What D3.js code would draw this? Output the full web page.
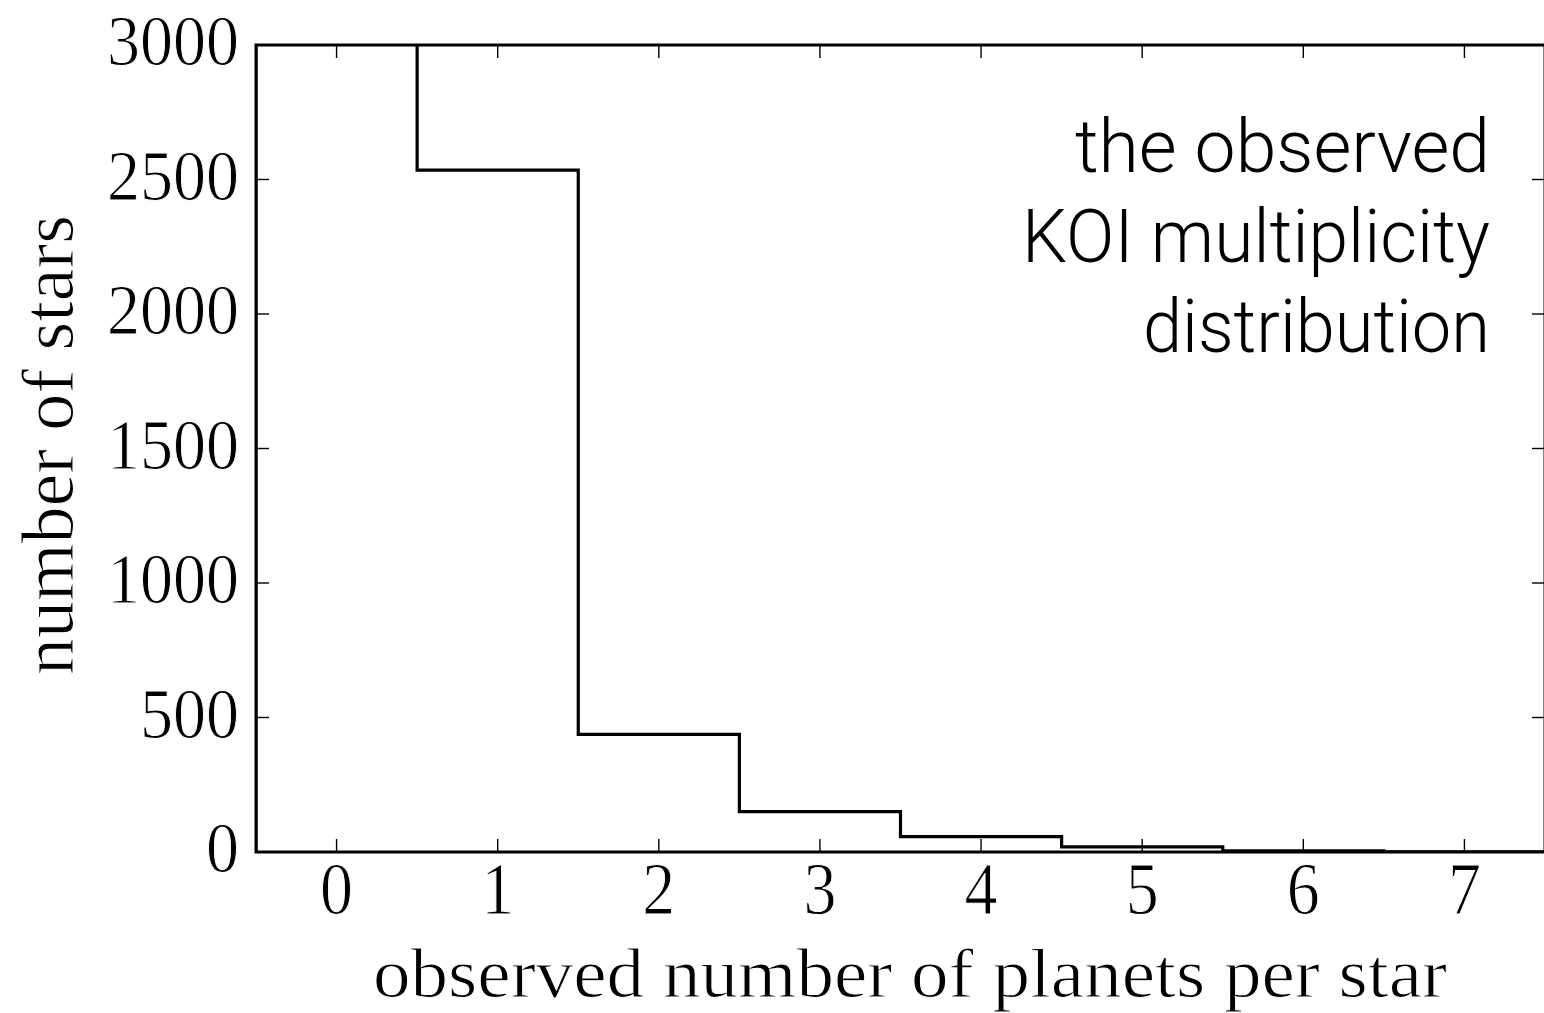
<!DOCTYPE html>
<html><head><meta charset="utf-8">
<script src="https://cdn.jsdelivr.net/npm/d3@7"></script>
<style>
html,body{margin:0;padding:0;background:#fff;}
svg{display:block;}
</style></head>
<body>
<svg id="chart" width="1544" height="1013"></svg>
<script>
// data
const bins = [0, 1, 2, 3, 4, 5, 6, 7];
const counts = [3500, 2535, 437, 150, 57, 19, 4, 1]; // bin 0 exceeds the axis top (clipped)
const xTicks = [0, 1, 2, 3, 4, 5, 6, 7];
const yTicks = [0, 500, 1000, 1500, 2000, 2500, 3000];
const annotation = ["the observed", "KOI multiplicity", "distribution"];
const xLabel = "observed number of planets per star";
const yLabel = "number of stars";

const svg = d3.select("#chart");
const L = 256, R = 1545, T = 45, B = 852;
const x = d3.scaleLinear().domain([-0.5, 7.5]).range([L, R]);
const y = d3.scaleLinear().domain([0, 3000]).range([B, T]);

svg.append("defs").append("clipPath").attr("id", "clip")
  .append("rect").attr("x", L).attr("y", T).attr("width", R - L).attr("height", B - T);

// ticks (inward)
const tickLen = 13;
const tg = svg.append("g").attr("stroke", "#000").attr("stroke-width", 1.4);
xTicks.forEach(t => {
  tg.append("line").attr("x1", x(t)).attr("x2", x(t)).attr("y1", B).attr("y2", B - tickLen);
  tg.append("line").attr("x1", x(t)).attr("x2", x(t)).attr("y1", T).attr("y2", T + tickLen);
});
yTicks.forEach(t => {
  tg.append("line").attr("x1", L).attr("x2", L + tickLen).attr("y1", y(t)).attr("y2", y(t));
  tg.append("line").attr("x1", R).attr("x2", R - tickLen).attr("y1", y(t)).attr("y2", y(t));
});

// histogram step line
const pts = [];
bins.forEach((b, i) => {
  pts.push([b - 0.5, counts[i]]);
  pts.push([b + 0.5, counts[i]]);
});
const line = d3.line().x(d => x(d[0])).y(d => y(d[1]));
svg.append("path").attr("clip-path", "url(#clip)")
  .datum([[bins[0] - 0.5, 0]].concat(pts).concat([[bins[bins.length - 1] + 0.5, 0]]))
  .attr("d", line).attr("fill", "none").attr("stroke", "#000")
  .attr("stroke-width", 3.2).attr("stroke-linejoin", "miter");

// frame
svg.append("rect").attr("x", L).attr("y", T).attr("width", R - L).attr("height", B - T)
  .attr("fill", "none").attr("stroke", "#000").attr("stroke-width", 3);

const serif = "'Liberation Serif', 'Times New Roman', serif";
function serifText(sel, size) {
  return sel.attr("font-family", serif).attr("font-size", size || 66)
    .attr("fill", "#000").attr("stroke", "#fff").attr("stroke-width", 0.9);
}
// tick labels
xTicks.forEach(t => {
  serifText(svg.append("text").attr("transform", `translate(${x(t)},${914}) scale(1,1.12)`)
    .attr("text-anchor", "middle")).text(d3.format("d")(t));
});
yTicks.forEach(t => {
  serifText(svg.append("text").attr("transform", `translate(${239},${y(t) + 20}) scale(1,1.1)`)
    .attr("text-anchor", "end")).text(d3.format("d")(t));
});

// axis labels
serifText(svg.append("text").attr("transform", `translate(${910},${997}) scale(1,1.15)`)
  .attr("text-anchor", "middle")
  .attr("textLength", 1074).attr("lengthAdjust", "spacingAndGlyphs"), 61)
  .text(xLabel);
serifText(svg.append("text").attr("transform", `translate(${73},${445}) rotate(-90) scale(1,1.12)`)
  .attr("text-anchor", "middle")
  .attr("textLength", 460).attr("lengthAdjust", "spacingAndGlyphs"))
  .text(yLabel);

// annotation
const widths = [415, 468, 347];
annotation.forEach((s, i) => {
  svg.append("text").attr("x", 1490).attr("y", 172 + i * 90)
    .attr("text-anchor", "end").attr("font-family", "Roboto, 'Liberation Sans', sans-serif")
    .attr("font-weight", 300).attr("font-size", 74)
    .attr("textLength", widths[i]).attr("lengthAdjust", "spacingAndGlyphs")
    .text(s);
});
</script>
</body></html>
